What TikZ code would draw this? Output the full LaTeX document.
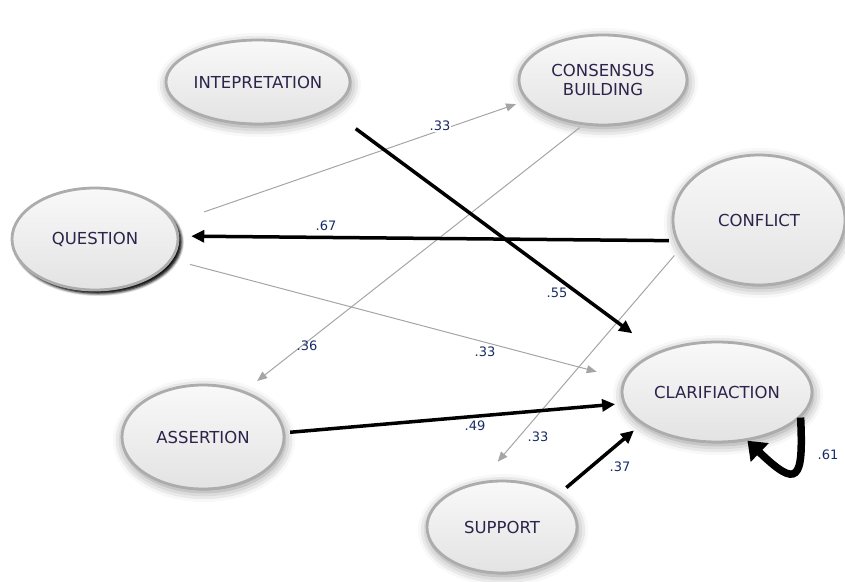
\documentclass[tikz,border=0pt]{standalone}
\usepackage{fontspec}
\setmainfont{DejaVu Sans}
\usetikzlibrary{shapes.geometric,arrows.meta,shadows.blur}
\definecolor{nodetext}{RGB}{45,35,75}
\definecolor{lbl}{RGB}{25,45,100}
\definecolor{thin}{RGB}{165,165,165}
\begin{document}
\begin{tikzpicture}[x=1pt,y=1pt,
  bubble/.style={ellipse, inner sep=0pt, draw=gray!65, line width=2.8pt,
    top color=gray!5, bottom color=gray!22, text=nodetext,
    font=\fontsize{16.5}{19}\selectfont, align=center,
    blur shadow={shadow xshift=1pt, shadow yshift=-3pt, shadow blur radius=10pt, shadow opacity=45}},
  strong/.style={line width=3.5pt, -{Triangle[length=13pt,width=12pt]}},
  weak/.style={draw=thin, line width=1pt, -{Triangle[length=10pt,width=8pt]}},
  wlabel/.style={text=lbl, font=\fontsize{13}{14}\selectfont, inner sep=1pt},
  cut/.style={fill=white}
]
\useasboundingbox (0,0) rectangle (845,-581);

\node[bubble, minimum width=184pt, minimum height=84pt] (intp) at (258,-82) {INTEPRETATION};
\node[bubble, minimum width=168pt, minimum height=90pt] (cons) at (603,-80) {CONSENSUS\\BUILDING};
\node[bubble, minimum width=166pt, minimum height=102pt,
  blur shadow={shadow xshift=3pt, shadow yshift=-3pt, shadow blur radius=3pt, shadow opacity=85}] (ques) at (95,-239) {QUESTION};
\node[bubble, minimum width=172pt, minimum height=130pt] (conf) at (759,-220) {CONFLICT};
\node[bubble, minimum width=190pt, minimum height=100pt] (clar) at (717,-392) {CLARIFIACTION};
\node[bubble, minimum width=162pt, minimum height=104pt] (asse) at (203,-437) {ASSERTION};
\node[bubble, minimum width=150pt, minimum height=92pt] (supp) at (502,-527) {SUPPORT};

\draw[weak, shorten <=31pt, shorten >=11pt] (ques.12) -- (cons.195);
\draw[weak, shorten <=4pt, shorten >=16pt] (cons.246) -- (asse.48);
\draw[weak, shorten <=18pt, shorten >=28pt] (ques.-15) -- (clar.172);
\draw[weak, shorten <=9pt, shorten >=26pt] (conf.-160) -- (supp.115);
\draw[strong, shorten <=32pt, shorten >=31pt] (intp.-21) -- (clar.146);
\draw[strong, shorten <=7pt, shorten >=12pt] (conf.194) -- (ques.2);
\draw[strong, shorten <=5pt, shorten >=8pt] (asse.3) -- (clar.187);
\draw[strong, shorten <=11pt, shorten >=10pt] (supp.30) -- (clar.203);
\draw[line width=7.5pt, -{Triangle[length=17pt,width=25pt]}]
  (clar.-17) .. controls +(3,-64) and +(50,-48) .. (clar.-58);

\node[wlabel, cut] (l1) at (440,-126) {.33};
\node[wlabel] (l2) at (557,-293) {.55};
\node[wlabel] (l3) at (326,-226) {.67};
\node[wlabel] (l4) at (307,-346) {.36};
\node[wlabel, cut] (l5) at (485,-352) {.33};
\node[wlabel] (l6) at (475,-426) {.49};
\node[wlabel] (l7) at (538,-437) {.33};
\node[wlabel] (l8) at (620,-467) {.37};
\node[wlabel] (l9) at (828,-455) {.61};
\end{tikzpicture}
\end{document}
